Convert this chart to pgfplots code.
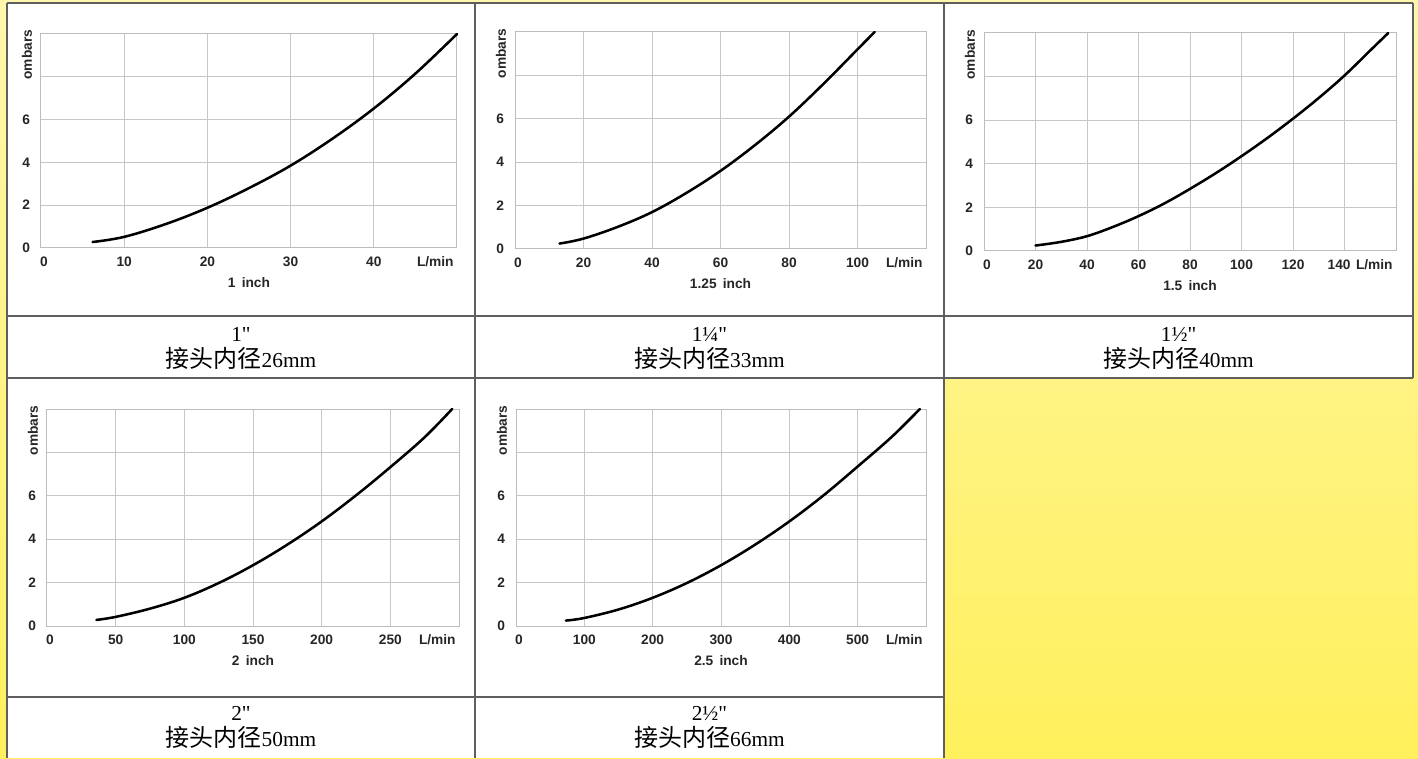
\documentclass[border=0pt]{standalone}
\usepackage{fontspec}
\setmainfont{Liberation Serif}
\newfontfamily\capfont{Liberation Serif}[Ligatures=ResetAll]
\newfontfamily\cjk{Noto Sans CJK SC}
\newfontfamily\arial{Liberation Sans}
\usepackage{pgfplots}
\pgfplotsset{compat=1.18}
\definecolor{ytop}{RGB}{255,247,172}
\definecolor{ybot}{RGB}{255,240,92}
\definecolor{frame}{RGB}{95,95,95}
\newcommand\lab{\arial\bfseries\fontsize{10.3}{11}\selectfont}
\newcommand\capA{\capfont\fontsize{16}{16}\selectfont}
\newcommand\capB{\cjk\fontsize{18}{18}\selectfont}
\pgfplotsset{
  pc/.style={
    scale only axis, anchor=south west,
    ymin=0, ymax=10, ytick={0,2,4,6,8,10}, yticklabels={0,2,4,6,{},{}},
    grid=major, grid style={draw=black!22, line width=0.75pt},
    axis line style={draw=black!26, line width=0.75pt},
    major tick length=0pt,
    tick label style={font=\lab, text=black!85},
    xticklabel style={yshift=-3.5pt},
    yticklabel style={xshift=-4.8pt},
    clip=false,
  },
  curve/.style={draw=black, line width=1.9pt, line cap=round, smooth, tension=0.6, mark=none},
}
\newcommand\decor[1]{%
  \node[rotate=90, anchor=west, font=\lab, text=black!85] at ([xshift=-10.5pt]rel axis cs:0,0.765) {ombars};
  \node[font=\lab, text=black!85] at ([yshift=-26.25pt]rel axis cs:0.5,0) {#1};
  \node[font=\lab, text=black!85, anchor=base east] at ([yshift=-14.2pt,xshift=1pt]rel axis cs:1,0) {L/min};
}
\begin{document}
\begin{tikzpicture}
\useasboundingbox (0,0) rectangle (1063.5pt,568.5pt);
\shade[top color=ytop, bottom color=ybot] (0,0) rectangle (1063.5pt,568.5pt);
% white cells
\fill[white] (5.25pt,285pt) rectangle (1059.75pt,566.25pt);
\fill[white] (5.25pt,0pt) rectangle (708pt,285pt);
% table rules
\begin{scope}[draw=frame, line width=1.1pt]
\draw (5.25pt,566.25pt) -- (1059.75pt,566.25pt);
\draw (5.25pt,331.5pt) -- (1059.75pt,331.5pt);
\draw (5.25pt,285pt) -- (1059.75pt,285pt);
\draw (5.25pt,45.75pt) -- (708pt,45.75pt);
\draw (5.25pt,0pt) -- (5.25pt,566.25pt);
\draw (356.25pt,0pt) -- (356.25pt,566.25pt);
\draw (708pt,0pt) -- (708pt,566.25pt);
\draw (1059.75pt,285pt) -- (1059.75pt,566.25pt);
\end{scope}
% captions
\node[anchor=base] at (180.75pt,312pt) {\capA 1"};
\node[anchor=base] at (180.75pt,292.5pt) {{\capB 接头内径}{\capA 26mm}};
\node[anchor=base] at (532.1pt,312pt) {\capA 1¼"};
\node[anchor=base] at (532.1pt,292.5pt) {{\capB 接头内径}{\capA 33mm}};
\node[anchor=base] at (883.9pt,312pt) {\capA 1½"};
\node[anchor=base] at (883.9pt,292.5pt) {{\capB 接头内径}{\capA 40mm}};
\node[anchor=base] at (180.75pt,28.5pt) {\capA 2"};
\node[anchor=base] at (180.75pt,8.5pt) {{\capB 接头内径}{\capA 50mm}};
\node[anchor=base] at (532.1pt,28.5pt) {\capA 2½"};
\node[anchor=base] at (532.1pt,8.5pt) {{\capB 接头内径}{\capA 66mm}};

% chart 1
\begin{axis}[pc, at={(30.75pt,382.5pt)}, width=312pt, height=160.5pt,
  xmin=0, xmax=50, xtick={0,10,20,30,40,50}, xticklabels={\kern4.5pt 0,10,20,30,40,{}}]
\addplot[curve] coordinates {(6.2,0.28) (10,0.52) (15,1.12) (20,1.88) (25,2.8) (30,3.85) (35,5.1) (40,6.52) (45,8.15) (50,10)};
\decor{1\hspace{0.45em}inch}
\end{axis}
% chart 2
\begin{axis}[pc, at={(386.25pt,381.75pt)}, width=308.25pt, height=162.75pt,
  xmin=0, xmax=120, xtick={0,20,40,60,80,100,120}, xticklabels={\kern4.5pt 0,20,40,60,80,100,{}}]
\addplot[curve] coordinates {(13,0.25) (20,0.48) (30,1.02) (40,1.7) (50,2.58) (60,3.6) (70,4.78) (80,6.1) (90,7.6) (100,9.2) (105,10)};
\decor{1.25\hspace{0.45em}inch}
\end{axis}
% chart 3
\begin{axis}[pc, at={(738pt,380.25pt)}, width=309pt, height=163.5pt,
  xmin=0, xmax=160, xtick={0,20,40,60,80,100,120,140,160}, xticklabels={\kern4.5pt 0,20,40,60,80,100,120,140\kern8pt,{}}]
\addplot[curve] coordinates {(20,0.25) (30,0.42) (40,0.68) (50,1.1) (60,1.6) (70,2.18) (80,2.85) (90,3.57) (100,4.35) (110,5.18) (120,6.07) (130,7.02) (140,8.05) (150,9.2) (157,10)};
\decor{1.5\hspace{0.45em}inch}
\end{axis}
% chart 4
\begin{axis}[pc, at={(35.25pt,99pt)}, width=309pt, height=162.75pt,
  xmin=0, xmax=300, xtick={0,50,100,150,200,250,300}, xticklabels={\kern4.5pt 0,50,100,150,200,250,{}}]
\addplot[curve] coordinates {(36,0.28) (50,0.42) (75,0.8) (100,1.3) (125,1.98) (150,2.8) (175,3.75) (200,4.82) (225,6.02) (250,7.32) (275,8.7) (295,10)};
\decor{2\hspace{0.45em}inch}
\end{axis}
% chart 5
\begin{axis}[pc, at={(387pt,99pt)}, width=307.5pt, height=162.75pt,
  xmin=0, xmax=600, xtick={0,100,200,300,400,500,600}, xticklabels={\kern4.5pt 0,100,200,300,400,500,{}}]
\addplot[curve] coordinates {(73,0.25) (100,0.37) (150,0.76) (200,1.3) (250,1.98) (300,2.8) (350,3.75) (400,4.82) (450,6.02) (500,7.35) (550,8.72) (591,10)};
\decor{2.5\hspace{0.45em}inch}
\end{axis}
\end{tikzpicture}
\end{document}
